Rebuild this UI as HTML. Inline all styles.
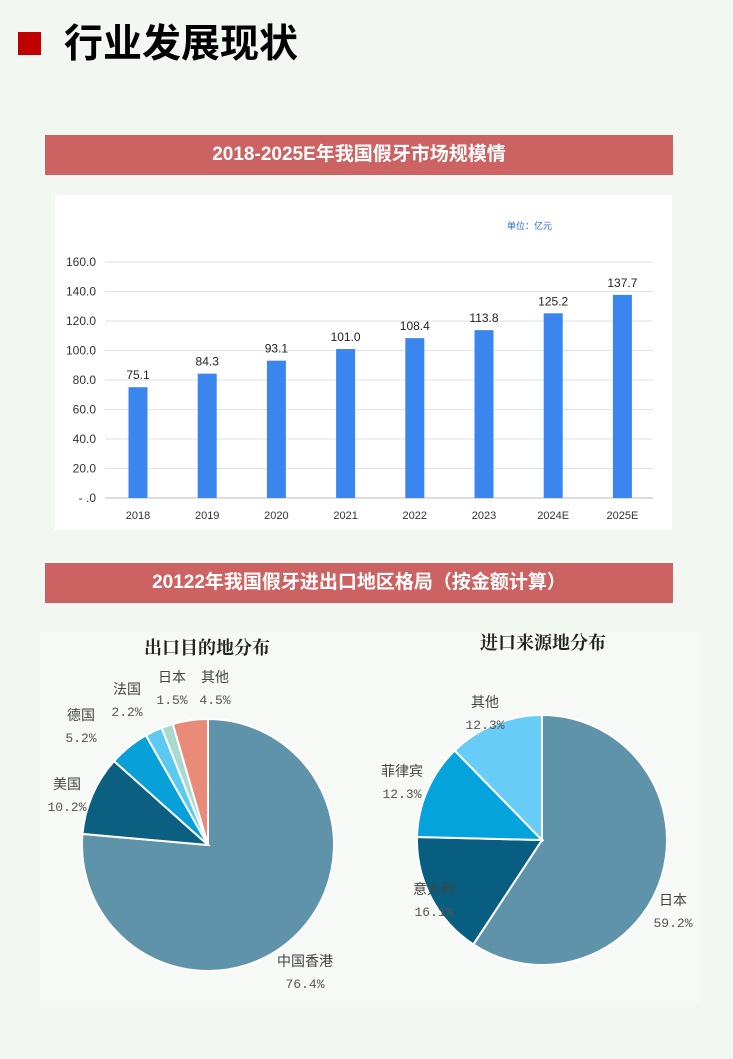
<!DOCTYPE html>
<html><head><meta charset="utf-8"><style>
body{margin:0;width:733px;height:1059px;background:#f3f7f1;position:relative;overflow:hidden;font-family:"Liberation Sans","Noto Sans CJK SC",sans-serif}
.abs{position:absolute}
.banner{position:absolute;left:45px;width:628px;height:40px;background:#cd6262;color:#fff;font-weight:bold;font-size:19px;text-align:center;line-height:40px}
</style></head><body>
<div class="abs" style="left:18px;top:32px;width:23px;height:23px;background:#c00000"></div>
<div class="abs" style="left:64px;top:20px;font-size:39px;font-weight:bold;color:#000;line-height:50px">行业发展现状</div>
<div class="banner" style="top:135px">2018-2025E年我国假牙市场规模情</div>
<div class="banner" style="top:563px">20122年我国假牙进出口地区格局（按金额计算）</div>
<svg class="abs" style="left:0;top:0" width="733" height="1059">
<rect x="55" y="195" width="617" height="335" fill="#fff"/>
<rect x="40" y="632" width="660" height="370" fill="#f6f9f5"/>
<text x="507" y="229" font-size="9" fill="#2f6bd0">单位：亿元</text>
<g id="bars"></g>
<text x="207" y="654" text-anchor="middle" font-size="18" font-weight="bold" fill="#222" font-family="Liberation Serif,Noto Serif CJK SC,serif">出口目的地分布</text>
<text x="543" y="649" text-anchor="middle" font-size="18" font-weight="bold" fill="#222" font-family="Liberation Serif,Noto Serif CJK SC,serif">进口来源地分布</text>
<g id="pies"></g>
</svg>
<script>
const years=["2018","2019","2020","2021","2022","2023","2024E","2025E"];
const sizes=[75.1,84.3,93.1,101.0,108.4,113.8,125.2,137.7];
const yTicks=[0,20,40,60,80,100,120,140,160];
const yTickLabels=["- .0","20.0","40.0","60.0","80.0","100.0","120.0","140.0","160.0"];
const expNames=["中国香港","美国","德国","法国","日本","其他"];
const expVals=[76.4,10.2,5.2,2.2,1.5,4.5];
const impNames=["日本","意大利","菲律宾","其他"];
const impVals=[59.2,16.1,12.3,12.3];
const NS="http://www.w3.org/2000/svg";
function mk(t,a,p){const e=document.createElementNS(NS,t);for(const k in a)e.setAttribute(k,a[k]);p.appendChild(e);return e;}
const g=document.getElementById('bars');
const y=v=>498-v*236/160, x=i=>138+i*69.2;
yTicks.forEach((t,i)=>{
 const l=mk('line',{x1:105,x2:653,y1:y(t),y2:y(t),stroke:i==0?'#bbb':'#e2e2e2','stroke-width':1},g);
 
 
 const tx=mk('text',{x:96,y:y(t)+4,'text-anchor':'end','font-size':12,fill:'#333'},g);tx.textContent=yTickLabels[i];
 
 
});
years.forEach((yr,i)=>{
 const r=mk('rect',{x:x(i)-9.5,y:y(sizes[i]),width:19,height:498-y(sizes[i]),fill:'#3a86ee'},g);
 
 
 const v=mk('text',{x:x(i),y:y(sizes[i])-8,'text-anchor':'middle','font-size':12,fill:'#222'},g);v.textContent=sizes[i].toFixed(1);
 
 
 const xl=mk('text',{x:x(i),y:519,'text-anchor':'middle','font-size':11,fill:'#333'},g);xl.textContent=yr;
 
 
});
const pg=document.getElementById('pies');
function pie(cx,cy,r,vals,names,cols,labels,prefix){
 const tot=vals.reduce((a,b)=>a+b,0);let a=0;
 vals.forEach((v,i)=>{
  const a0=a/tot*2*Math.PI,a1=(a+v)/tot*2*Math.PI;a+=v;
  const p=t=>[cx+r*Math.sin(t),cy-r*Math.cos(t)];
  const [x0,y0]=p(a0),[x1,y1]=p(a1);
  const s=mk('path',{d:`M${cx},${cy}L${x0},${y0}A${r},${r} 0 ${a1-a0>Math.PI?1:0} 1 ${x1},${y1}Z`,fill:cols[i],stroke:'#fff','stroke-width':2},pg);
  
  
  const [lx,ly]=labels[i];
  const t1=mk('text',{x:lx,y:ly,'text-anchor':'middle','font-size':14,fill:'#444'},pg);t1.textContent=names[i];
  
  
  const t2=mk('text',{x:lx,y:ly+22,'text-anchor':'middle','font-size':13,fill:'#555','font-family':'Liberation Mono,monospace'},pg);t2.textContent=v.toFixed(1)+'%';
  
  
 });
}
pie(208,845,126,expVals,expNames,['#5f93a9','#0b5f80','#08a0d8','#5ccaf0','#a9d9cf','#e98b78'],
 [[305,966],[67,789],[81,720],[127,694],[172,682],[215,682]],'export');
pie(542,840,125,impVals,impNames,['#5f93a9','#075e80','#04a3dc','#68cdf6'],
 [[673,905],[434,894],[402,776],[485,707]],'import');
</script>
</body></html>
